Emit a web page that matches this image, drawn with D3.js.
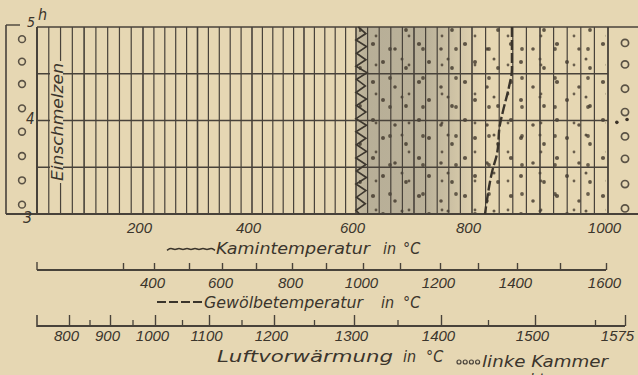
<!DOCTYPE html>
<html>
<head>
<meta charset="utf-8">
<script src="https://cdn.jsdelivr.net/npm/d3@7"></script>
<style>
  body { margin: 0; background: #e6d7b3; }
  svg { display: block; font-family: "DejaVu Sans Condensed", "DejaVu Sans", sans-serif; font-style: oblique; }
  text { fill: #3b352c; }
</style>
</head>
<body>
<div id="chart"></div>
<script>
// hours on the vertical axis
const hourGrid = [3.5, 4, 4.5];

// Kamintemperatur scale (under the plot)
const kaminLabels = [200, 400, 600, 800, 1000];

// Gewölbetemperatur scale
const gewoelbeTicks = [300, 400, 500, 600, 700, 800, 900, 1000, 1100, 1200, 1300, 1400, 1500, 1600];
const gewoelbeLabels = [400, 600, 800, 1000, 1200, 1400, 1600];

// Luftvorwärmung scale
const luftMajor = [800, 900, 1000, 1100, 1200, 1300, 1400, 1500, 1575];
const luftMinor = [850, 950, 1050, 1150, 1250, 1350, 1450, 1550];

// Kamintemperatur curve (zigzag), hours / °C
const kaminHours = [5.00, 4.93, 4.86, 4.79, 4.72, 4.65, 4.58, 4.51, 4.44, 4.37, 4.30, 4.23, 4.16, 4.09, 4.02,
                    3.95, 3.88, 3.81, 3.74, 3.67, 3.60, 3.53, 3.46, 3.39, 3.32, 3.25, 3.18, 3.11, 3.04, 3.00];
const kaminValues = [604, 617, 600, 618, 601, 617, 600, 619, 601, 616, 600, 618, 601, 617, 600,
                     618, 600, 617, 601, 618, 600, 617, 601, 618, 600, 617, 601, 616, 600, 606];

// Gewölbetemperatur curve (dashed), hours / °C
const gewoelbeHours = [5.0, 4.55, 4.35, 4.1, 3.95, 3.65, 3.45, 3.15, 3.0];
const gewoelbeValues = [1387, 1387, 1379, 1364, 1356, 1349, 1336, 1323, 1318];

// reversal marks
const linkeKammer = [4.87, 4.63, 4.39, 4.13, 3.88, 3.62, 3.36, 3.10];
const rechteKammer = [4.83, 4.60, 4.34, 4.09, 3.83, 3.59, 3.32, 3.06];
const strayDots = [[1013, 3.98], [1028, 4.01]];

// stippled band (Kamin °C) and its grey shade
const band = [600, 1000];
const shade = [600, 815];

const W = 638, H = 375;
const ink = "#48423a";
const fmt = d3.format("d");

const svg = d3.select("#chart").append("svg")
    .attr("width", W).attr("height", H);

const defs = svg.append("defs");

// scales
const x = d3.scaleLinear()
    .domain([20, 200, 400, 600, 800, 1000])
    .range([37, 143, 252, 356, 472, 608]);

const y = d3.scaleLinear().domain([3, 5]).range([214, 27]);

const g = d3.scaleLinear()
    .domain(gewoelbeTicks)
    .range([123, 154, 189, 222, 256, 292, 326, 363, 400, 440, 478, 517, 560, 606]);

const l = d3.scaleLinear()
    .domain([720, 800, 900, 1000, 1100, 1200, 1300, 1400, 1500, 1575])
    .range([37, 69, 110, 155, 209, 274, 354, 441, 535, 625]);

// soft edge for the stipple dots
defs.append("filter").attr("id", "soft").attr("x", "-50%").attr("y", "-50%").attr("width", "200%").attr("height", "200%")
    .append("feGaussianBlur").attr("stdDeviation", 0.6);

// grey shade of the band
const grad = defs.append("linearGradient").attr("id", "shade")
    .attr("gradientUnits", "userSpaceOnUse")
    .attr("x1", x(shade[0])).attr("x2", x(shade[1])).attr("y1", 0).attr("y2", 0);
[[0, 0.38], [0.1, 0.5], [0.55, 0.48], [0.78, 0.25], [1, 0]].forEach(s =>
    grad.append("stop").attr("offset", s[0]).attr("stop-color", "#8a877c").attr("stop-opacity", s[1]));

// two stipple tiles with different sizes so the dots do not look regular
const pat1 = defs.append("pattern").attr("id", "stip1").attr("patternUnits", "userSpaceOnUse")
    .attr("width", 46).attr("height", 38);
[[5, 6, 2.1], [27, 11, 1.8], [15, 24, 2.0], [38, 30, 1.9], [34, 21, 1.5]].forEach(d =>
    pat1.append("circle").attr("cx", d[0]).attr("cy", d[1]).attr("r", d[2])
        .attr("fill", "#3f362a").attr("opacity", 0.8).attr("filter", "url(#soft)"));
const pat2 = defs.append("pattern").attr("id", "stip2").attr("patternUnits", "userSpaceOnUse")
    .attr("width", 33).attr("height", 29).attr("x", 7).attr("y", 3);
[[20, 17, 1.9], [6, 4, 1.4]].forEach(d =>
    pat2.append("circle").attr("cx", d[0]).attr("cy", d[1]).attr("r", d[2])
        .attr("fill", "#3f362a").attr("opacity", 0.75).attr("filter", "url(#soft)"));

svg.append("rect")
    .attr("x", x(shade[0])).attr("y", y(5))
    .attr("width", x(shade[1]) - x(shade[0])).attr("height", y(3) - y(5))
    .attr("fill", "url(#shade)");

["stip1", "stip2"].forEach(id =>
    svg.append("rect")
        .attr("x", x(band[0]) + 3).attr("y", y(5))
        .attr("width", x(band[1]) - x(band[0]) - 5).attr("height", y(3) - y(5))
        .attr("fill", `url(#${id})`));

// vertical grid (every 20 °C of the Kamin scale)
svg.append("g").selectAll("line")
    .data(x.ticks(50).filter(v => v > 20 && v < 1000))
    .join("line")
    .attr("x1", d => x(d)).attr("x2", d => x(d))
    .attr("y1", y(5)).attr("y2", y(3))
    .attr("stroke", ink)
    .attr("stroke-width", d => d % 100 === 0 ? 1.6 : 1.2);

// horizontal grid
svg.append("g").selectAll("line")
    .data(hourGrid)
    .join("line")
    .attr("x1", 37).attr("x2", 608)
    .attr("y1", d => y(d)).attr("y2", d => y(d))
    .attr("stroke", ink).attr("stroke-width", 1.3);

// frame
const frame = svg.append("g").attr("stroke", ink).attr("fill", "none");
frame.append("line").attr("x1", 37).attr("x2", W).attr("y1", y(5)).attr("y2", y(5)).attr("stroke-width", 1.6);
frame.append("line").attr("x1", 6).attr("x2", W).attr("y1", y(3)).attr("y2", y(3)).attr("stroke-width", 1.8);
frame.append("line").attr("x1", 6).attr("x2", 20).attr("y1", y(5) - 2).attr("y2", y(5) - 2).attr("stroke-width", 1.4);
frame.append("line").attr("x1", 6).attr("x2", 6).attr("y1", y(5) - 2).attr("y2", y(3)).attr("stroke-width", 1.6);
frame.append("line").attr("x1", 37).attr("x2", 37).attr("y1", y(5)).attr("y2", y(3)).attr("stroke-width", 2);
frame.append("line").attr("x1", x(1000)).attr("x2", x(1000)).attr("y1", y(5)).attr("y2", y(3)).attr("stroke-width", 1.8);

// Kamintemperatur zigzag
svg.append("path")
    .datum(kaminHours.map((h, i) => [kaminValues[i], h]))
    .attr("d", d3.line().x(d => x(d[0])).y(d => y(d[1])))
    .attr("fill", "none").attr("stroke", "#3d372e").attr("stroke-width", 1.7);

// Gewölbetemperatur dashed line
svg.append("path")
    .datum(gewoelbeHours.map((h, i) => [gewoelbeValues[i], h]))
    .attr("d", d3.line().curve(d3.curveMonotoneY).x(d => g(d[0])).y(d => y(d[1])))
    .attr("fill", "none").attr("stroke", "#3a342b").attr("stroke-width", 2.4)
    .attr("stroke-dasharray", "10,3");

// reversal circles
svg.append("g").selectAll("circle")
    .data(linkeKammer).join("circle")
    .attr("cx", 22).attr("cy", d => y(d)).attr("r", 3.4)
    .attr("fill", "none").attr("stroke", "#5a5245").attr("stroke-width", 1.6);
svg.append("g").selectAll("circle")
    .data(rechteKammer).join("circle")
    .attr("cx", 625).attr("cy", d => y(d)).attr("r", 3.6)
    .attr("fill", "none").attr("stroke", "#5a5245").attr("stroke-width", 1.7);
svg.append("g").selectAll("circle")
    .data(strayDots).join("circle")
    .attr("cx", d => x(d[0])).attr("cy", d => y(d[1])).attr("r", 1.8)
    .attr("fill", "#3b3228");

// hour labels
svg.append("text").attr("x", 27).attr("y", 27).attr("font-size", 14).text("5");
svg.append("text").attr("x", 38).attr("y", 20).attr("font-size", 16).text("h");
svg.append("text").attr("x", 26).attr("y", 124).attr("font-size", 15).text("4");
svg.append("text").attr("x", 23).attr("y", 223).attr("font-size", 16).text("3");

// Einschmelzen
const ein = svg.append("g").attr("transform", "translate(57,122) rotate(-90)");
ein.append("rect").attr("x", -61).attr("y", -7).attr("width", 122).attr("height", 13).attr("fill", "#e6d7b3");
ein.append("text").attr("text-anchor", "middle").attr("dy", 5.5)
    .attr("font-size", 15).attr("textLength", 118).attr("lengthAdjust", "spacingAndGlyphs")
    .text("Einschmelzen");

// Kamin axis labels
const kAxis = svg.append("g").attr("transform", `translate(0,${y(3)})`)
    .call(d3.axisBottom(x).tickValues(kaminLabels).tickSize(0).tickPadding(8).tickFormat(fmt));
kAxis.select(".domain").remove();
kAxis.selectAll("text").attr("x", -4).attr("font-size", 15).style("fill", "#3b352c");

// titles
function title(xs, yb, len, label, unitX, degX) {
    svg.append("text").attr("x", xs).attr("y", yb).attr("font-size", 16)
        .attr("textLength", len).attr("lengthAdjust", "spacingAndGlyphs").text(label);
    svg.append("text").attr("x", unitX).attr("y", yb).attr("font-size", 16).text("in");
    svg.append("text").attr("x", degX).attr("y", yb).attr("font-size", 16).text("°C");
}

svg.append("path")
    .attr("d", d3.line().curve(d3.curveBasis)(d3.range(0, 13).map(i => [167 + i * 4, 249 + (i % 2 ? -1.3 : 1.3)])))
    .attr("fill", "none").attr("stroke", "#3a342b").attr("stroke-width", 1.6);
title(216, 254, 154, "Kamintemperatur", 383, 403);

// Gewölbe axis
const gAxis = svg.append("g").attr("transform", "translate(0,270)")
    .call(d3.axisBottom(g).tickValues(gewoelbeTicks).tickSizeInner(-7).tickSizeOuter(0).tickPadding(7)
        .tickFormat(d => gewoelbeLabels.includes(d) ? fmt(d) : ""));
gAxis.select(".domain").remove();
gAxis.selectAll("line").attr("stroke", ink).attr("stroke-width", 1.4);
gAxis.selectAll("text").attr("x", -2).attr("font-size", 15).style("fill", "#3b352c");
svg.append("line").attr("x1", 37).attr("x2", g(1600)).attr("y1", 270).attr("y2", 270)
    .attr("stroke", ink).attr("stroke-width", 1.8);
svg.append("line").attr("x1", 37).attr("x2", 37).attr("y1", 262).attr("y2", 270)
    .attr("stroke", ink).attr("stroke-width", 1.4);

svg.append("line").attr("x1", 157).attr("x2", 203).attr("y1", 302).attr("y2", 302)
    .attr("stroke", "#3a342b").attr("stroke-width", 2.2).attr("stroke-dasharray", "9,3");
title(204, 308, 159, "Gewölbetemperatur", 381, 403);

// Luft axis
const lMaj = svg.append("g").attr("transform", "translate(0,326)")
    .call(d3.axisBottom(l).tickValues(luftMajor).tickSizeInner(-11).tickSizeOuter(0).tickPadding(4).tickFormat(fmt));
lMaj.select(".domain").remove();
lMaj.selectAll("line").attr("stroke", ink).attr("stroke-width", 1.4);
lMaj.selectAll("text").attr("x", -3).attr("font-size", 15).style("fill", "#3b352c");
lMaj.selectAll(".tick").filter(d => d === 1575).select("text").attr("x", -8);
const lMin = svg.append("g").attr("transform", "translate(0,326)")
    .call(d3.axisBottom(l).tickValues(luftMinor).tickSizeInner(-6).tickSizeOuter(0).tickFormat(""));
lMin.select(".domain").remove();
lMin.selectAll("line").attr("stroke", ink).attr("stroke-width", 1.3);
svg.append("line").attr("x1", 37).attr("x2", l(1575)).attr("y1", 326).attr("y2", 326)
    .attr("stroke", ink).attr("stroke-width", 1.8);
svg.append("line").attr("x1", 37).attr("x2", 37).attr("y1", 315).attr("y2", 327)
    .attr("stroke", ink).attr("stroke-width", 1.6);

title(217, 362, 176, "Luftvorwärmung", 403, 426);

// legend
svg.append("g").selectAll("circle").data(d3.range(4)).join("circle")
    .attr("cx", d => 459 + d * 6.2).attr("cy", 362).attr("r", 2)
    .attr("fill", "none").attr("stroke", "#4a433a").attr("stroke-width", 1.2);
svg.append("text").attr("x", 482).attr("y", 367).attr("font-size", 16)
    .attr("textLength", 126).attr("lengthAdjust", "spacingAndGlyphs").text("linke Kammer");
svg.append("g").selectAll("circle").data(d3.range(5)).join("circle")
    .attr("cx", d => 459 + d * 8).attr("cy", 378).attr("r", 1.8).attr("fill", "#4a433a");
svg.append("text").attr("x", 507).attr("y", 385).attr("font-size", 16).text("rechte  „");
</script>
</body>
</html>
